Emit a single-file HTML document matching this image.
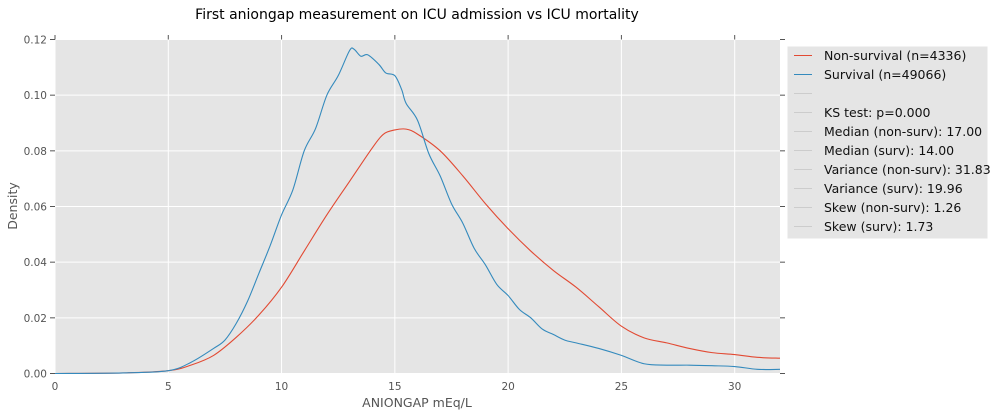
<!DOCTYPE html>
<html><head><meta charset="utf-8"><style>
body{margin:0;background:#fff;}
svg{display:block;font-family:"DejaVu Sans","Liberation Sans",sans-serif;}
</style></head><body>
<svg id="chart" width="995" height="417">
<text x="417" y="19" text-anchor="middle" font-size="14" fill="#000">First aniongap measurement on ICU admission vs ICU mortality</text>
<rect x="55" y="39.5" width="725" height="334" fill="#e5e5e5"/>
<g id="grid"></g><g id="ticks"></g><g id="lines"></g>
<text x="417" y="407" text-anchor="middle" font-size="12.5" fill="#555">ANIONGAP mEq/L</text>
<text transform="translate(17,206) rotate(-90)" text-anchor="middle" font-size="12.5" fill="#555">Density</text>
<g>
<rect x="787" y="46" width="201" height="193" fill="#e5e5e5" stroke="#fff"/>
<g id="legend"></g></g>
</svg>
<script>
const xTicks=[0,5,10,15,20,25,30];
const yTicks=[0,0.02,0.04,0.06,0.08,0.10,0.12];
const yTickLabels=["0.00","0.02","0.04","0.06","0.08","0.10","0.12"];
const survX=[0,3,5,6,7,7.5,8,8.5,9,9.5,10,10.5,11,11.5,12,12.5,13,13.2,13.5,13.8,14.3,14.6,15,15.3,15.5,16,16.5,17,17.5,18,18.5,19,19.5,20,20.5,21,21.5,22,22.5,23,24,25,26,27,28,29,30,31,32];
const survY=[0,0.0002,0.001,0.004,0.009,0.012,0.018,0.026,0.036,0.046,0.057,0.066,0.080,0.088,0.100,0.107,0.116,0.1165,0.114,0.1145,0.111,0.108,0.107,0.102,0.097,0.091,0.079,0.071,0.061,0.054,0.045,0.039,0.032,0.028,0.023,0.020,0.016,0.014,0.012,0.011,0.009,0.0065,0.0035,0.003,0.003,0.0028,0.0025,0.0015,0.0015];
const nonX=[0,3,5,6,7,8,9,10,11,12,13,14,14.5,15,15.5,16,17,18,19,20,21,22,23,24,25,26,27,28,29,30,31,32];
const nonY=[0,0.0002,0.001,0.003,0.0065,0.013,0.021,0.031,0.044,0.057,0.069,0.081,0.086,0.0875,0.0878,0.086,0.080,0.071,0.061,0.052,0.044,0.037,0.031,0.024,0.017,0.0128,0.011,0.009,0.0075,0.0068,0.0058,0.0055];
const legendLabels=["Non-survival (n=4336)","Survival (n=49066)","","KS test: p=0.000","Median (non-surv): 17.00","Median (surv): 14.00","Variance (non-surv): 31.83","Variance (surv): 19.96","Skew (non-surv): 1.26","Skew (surv): 1.73"];
const legendColors=["#e24a33","#348abd","#ccc","#ccc","#ccc","#ccc","#ccc","#ccc","#ccc","#ccc"];
const NS="http://www.w3.org/2000/svg";
const X=v=>55+v*(725/32), Y=v=>373.5-v*(334/0.12);
function mk(t,a,p){const e=document.createElementNS(NS,t);for(const k in a)e.setAttribute(k,a[k]);p.appendChild(e);return e;}
const grid=document.getElementById('grid'),ticks=document.getElementById('ticks');
xTicks.forEach(v=>{
 const l=mk('line',{x1:X(v),x2:X(v),y1:39.5,y2:373.5,stroke:'#fff','stroke-width':1},grid);
 
 
 const t=mk('text',{x:X(v),y:390,'text-anchor':'middle','font-size':10.5,fill:'#555'},ticks);t.textContent=v;
 
 
 mk('line',{x1:X(v),x2:X(v),y1:35,y2:39.5,stroke:'#555'},ticks);
});
yTicks.forEach((v,i)=>{
 const l=mk('line',{x1:55,x2:780,y1:Y(v),y2:Y(v),stroke:'#fff','stroke-width':1},grid);
 
 
 const t=mk('text',{x:47,y:Y(v)+4,'text-anchor':'end','font-size':10.5,fill:'#555'},ticks);t.textContent=yTickLabels[i];
 
 
 mk('line',{x1:50,x2:55,y1:Y(v),y2:Y(v),stroke:'#555'},ticks);
 mk('line',{x1:780,x2:785,y1:Y(v),y2:Y(v),stroke:'#555'},ticks);
});
function path(xs,ys){
 const p=xs.map((x,i)=>[X(x),Y(ys[i])]);let d='M'+p[0][0]+','+p[0][1];
 for(let i=0;i<p.length-1;i++){const p0=p[Math.max(0,i-1)],p1=p[i],p2=p[i+1],p3=p[Math.min(p.length-1,i+2)];
  d+=' C'+(p1[0]+(p2[0]-p0[0])/6)+','+(p1[1]+(p2[1]-p0[1])/6)+' '+(p2[0]-(p3[0]-p1[0])/6)+','+(p2[1]-(p3[1]-p1[1])/6)+' '+p2[0]+','+p2[1];}
 return d;}
const lines=document.getElementById('lines');
const ln=mk('path',{d:path(nonX,nonY),fill:'none',stroke:'#e24a33','stroke-width':1.1},lines);


const ls=mk('path',{d:path(survX,survY),fill:'none',stroke:'#348abd','stroke-width':1.1},lines);


const lg=document.getElementById('legend');
legendLabels.forEach((s,i)=>{
 const y=55.5+i*19;
 const g=mk('g',{},lg);
 
 
 mk('line',{x1:794,x2:812,y1:y,y2:y,stroke:legendColors[i],'stroke-width':1},g);
 const t=mk('text',{x:824,y:y+4.5,'font-size':12.5,fill:'#111'},g);t.textContent=s;
});
</script>
</body></html>
